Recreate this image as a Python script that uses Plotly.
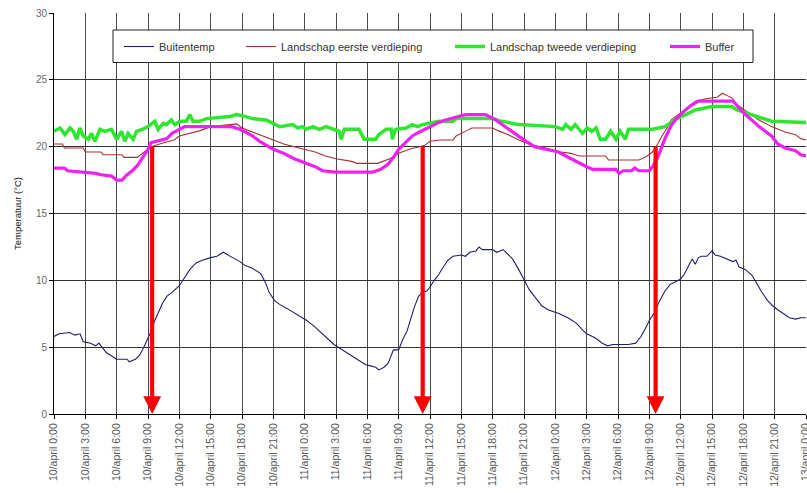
import plotly.graph_objects as go

# ---------------- data ----------------
days = ["10/april", "11/april", "12/april", "13/april"]
clock = ["0:00", "3:00", "6:00", "9:00", "12:00", "15:00", "18:00", "21:00"]
tick_hours = list(range(0, 73, 3))
tick_labels = [f"{days[h // 24]} {clock[(h % 24) // 3]}" for h in tick_hours]

buiten_h = [0, 0.5, 1.5, 2.0, 2.5, 2.8, 3.5, 4.0, 4.3, 5.0, 5.6, 6.0, 7.0, 7.2, 7.8, 8.2, 8.6, 9.0,
            9.3, 9.6, 10.0, 10.4, 10.8, 11.3, 12.0, 12.5, 13.0, 13.6, 14.2, 15.0, 15.6, 16.2, 16.6,
            17.1, 17.8, 18.3, 19.0, 19.8, 20.2, 20.6, 21.1, 21.6, 22.3, 22.9, 23.6, 24.2, 25.0, 25.7,
            26.3, 26.8, 27.4, 28.0, 28.6, 29.2, 29.8, 30.3, 30.8, 31.1, 31.6, 32.0, 32.3, 32.5, 33.0,
            33.4, 33.8, 34.2, 34.5, 34.9, 35.3, 35.7, 36.0, 36.4, 36.8, 37.2, 37.7, 38.2, 39.0, 39.4,
            39.8, 40.4, 40.7, 41.0, 42.0, 42.4, 43.0, 43.4, 43.9, 44.5, 45.0, 45.5, 46.0, 46.7, 47.3,
            48.4, 49.2, 50.0, 50.6, 51.0, 51.8, 52.5, 53.0, 53.5, 54.2, 55.0, 55.7, 56.2, 56.7, 57.0,
            57.5, 58.0, 58.5, 59.0, 59.5, 60.0, 60.3, 60.8, 61.1, 61.4, 61.7, 62.0, 62.5, 63.0, 63.3,
            63.8, 64.4, 65.0, 65.3, 65.6, 66.2, 66.8, 67.2, 67.7, 68.3, 68.8, 69.3, 69.9, 70.4, 71.0,
            71.5, 72.0]
buiten_v = [5.8, 6.0, 6.1, 5.9, 6.0, 5.4, 5.3, 5.1, 5.3, 4.6, 4.3, 4.1, 4.1, 3.9, 4.1, 4.4, 5.0, 5.7,
            6.2, 6.9, 7.6, 8.3, 8.8, 9.1, 9.6, 10.2, 10.8, 11.3, 11.5, 11.7, 11.8, 12.1, 11.9,
            11.7, 11.4, 11.1, 10.9, 10.5, 9.9, 9.1, 8.5, 8.2, 7.9, 7.6, 7.3, 7.0, 6.5, 6.0,
            5.6, 5.2, 4.9, 4.6, 4.3, 4.0, 3.7, 3.6, 3.5, 3.3, 3.5, 3.8, 4.5, 4.8, 4.8,
            5.6, 6.2, 7.2, 8.0, 8.8, 9.1, 9.2, 9.5, 10.0, 10.4, 10.9, 11.5, 11.8, 11.9, 11.8,
            12.1, 12.2, 12.5, 12.3, 12.3, 12.1, 12.3, 12.0, 11.6, 10.8, 10.0, 9.3, 8.8, 8.1, 7.8,
            7.5, 7.2, 6.8, 6.3, 6.0, 5.7, 5.3, 5.1, 5.2, 5.2, 5.2, 5.3, 5.8, 6.5, 7.0,
            7.6, 8.5, 9.2, 9.7, 9.9, 10.1, 10.4, 11.2, 11.6, 11.2, 11.7, 11.8, 11.8, 12.2, 11.9,
            11.8, 11.6, 11.4, 11.5, 11.0, 10.8, 10.4, 9.9, 9.2, 8.5, 8.1, 7.8, 7.5, 7.2, 7.1,
            7.2, 7.2]

eerste_h = [0, 0.8, 1.0, 2.8, 3.0, 4.5, 4.7, 6.5, 6.7, 8.0, 8.3, 8.8, 9.3, 10.5, 11.5, 12.0, 13.0,
            14.0, 15.0, 16.5, 17.5, 18.0, 19.0, 20.0, 21.0, 22.0, 23.0, 24.0, 25.0, 26.0, 27.0, 28.5,
            29.0, 31.0, 31.5, 32.5, 33.0, 34.0, 35.0, 35.5, 36.0, 37.0, 38.2, 38.5, 39.5, 40.0, 42.0,
            42.5, 43.5, 44.5, 45.5, 46.5, 47.7, 48.5, 49.5, 50.3, 52.8, 53.1, 56.0, 56.6, 57.3, 57.8,
            58.2, 58.7, 59.1, 59.8, 60.4, 61.0, 61.4, 62.5, 63.5, 64.0, 64.5, 65.0, 65.3, 66.0, 66.8,
            67.5, 68.7, 70.0, 71.0, 71.5, 72.0]
eerste_v = [20.2, 20.2, 19.9, 19.9, 19.6, 19.6, 19.4, 19.4, 19.2, 19.2, 19.4, 19.7, 20.0, 20.3, 20.5,
            20.8, 21.0, 21.2, 21.5, 21.6, 21.7, 21.4, 21.1, 20.8, 20.5, 20.2, 20.0, 19.8, 19.6, 19.3,
            19.1, 18.9, 18.75, 18.75, 18.9, 19.2, 19.5, 19.8, 20.0, 20.1, 20.4, 20.5, 20.5, 20.8, 21.2,
            21.4, 21.4, 21.2, 20.9, 20.5, 20.2, 20.0, 19.8, 19.6, 19.5, 19.3, 19.3, 19.0, 19.0, 19.2,
            19.6, 20.2, 20.8, 21.4, 22.0, 22.4, 22.7, 23.1, 23.4, 23.6, 23.7, 24.0, 23.8, 23.6, 23.2,
            22.8, 22.4, 22.0, 21.5, 21.1, 20.9, 20.6, 20.5]

tweede_h = [0, 0.57, 1.05, 1.53, 1.85, 2.17, 2.48, 2.8, 3.28, 3.6, 3.92, 4.4, 4.87, 5.5, 6.0, 6.46,
            6.78, 7.1, 7.58, 7.9, 8.5, 9.0, 9.65, 9.97, 10.45, 10.76, 11.24, 11.56, 12.04, 12.67, 13.0,
            13.3, 13.95, 14.6, 16.8, 17.45, 18.1, 19.0, 20.3, 20.96, 21.6, 22.87, 23.3, 23.8, 24.1,
            24.8, 25.4, 26.05, 26.7, 27.3, 27.5, 27.8, 29.2, 29.7, 30.8, 31.1, 31.8, 32.3, 32.4, 32.7,
            33.7, 34.3, 34.8, 35.3, 35.9, 36.9, 38.2, 38.5, 42.0, 42.6, 44.5, 48.0, 48.7, 49.0, 49.5,
            49.9, 50.6, 51.05, 51.5, 51.9, 52.3, 52.8, 53.3, 53.8, 54.2, 54.7, 55.0, 57.3, 58.5, 59.5,
            60.5, 61.4, 63.0, 64.9, 65.4, 66.8, 68.7, 72.0]
tweede_v = [21.15, 21.4, 20.9, 21.4, 21.15, 20.55, 21.4, 20.8, 20.55, 21.0, 20.4, 21.3, 21.15, 21.3,
            20.55, 21.15, 20.4, 21.0, 20.55, 21.15, 21.3, 21.5, 21.9, 21.3, 21.75, 21.65, 22.0, 21.65,
            21.9, 21.9, 22.4, 21.9, 21.9, 22.1, 22.25, 22.4, 22.3, 22.1, 22.0, 21.75, 21.5, 21.65, 21.4,
            21.5, 21.3, 21.5, 21.3, 21.5, 21.3, 21.15, 20.55, 21.3, 21.3, 20.55, 20.55, 20.9, 21.3,
            21.3, 20.55, 21.3, 21.4, 21.65, 21.5, 21.65, 21.75, 21.9, 21.9, 22.1, 22.1, 21.95, 21.65,
            21.5, 21.3, 21.65, 21.3, 21.65, 21.0, 21.4, 21.15, 21.4, 20.55, 20.55, 21.15, 20.55, 21.15,
            20.55, 21.3, 21.3, 21.5, 22.05, 22.4, 22.75, 23.0, 23.0, 22.75, 22.4, 21.9, 21.8]

buffer_h = [0, 1.0, 1.3, 3.0, 4.0, 4.5, 5.5, 6.0, 6.5, 7.0, 7.5, 8.0, 8.5, 9.0, 9.3, 10.2, 10.8, 11.3,
            12.0, 12.5, 17.0, 17.8, 18.3, 19.0, 19.7, 20.3, 21.0, 22.0, 23.0, 24.0, 25.0, 25.7, 27.0,
            30.5, 31.3, 32.0, 32.5, 33.0, 33.7, 34.3, 35.0, 36.0, 36.8, 37.5, 38.5, 39.4, 41.3, 42.3,
            43.0, 43.7, 44.5, 45.2, 46.0, 47.0, 48.3, 49.0, 49.7, 50.3, 51.0, 51.6, 53.8, 54.1, 54.5,
            55.3, 55.6, 56.0, 57.0, 57.4, 57.8, 58.1, 58.5, 59.1, 59.6, 60.4, 61.0, 61.7, 63.0, 65.0,
            65.6, 66.2, 66.8, 67.5, 68.2, 68.7, 69.3, 70.0, 71.0, 71.5, 72.0]
buffer_v = [18.4, 18.4, 18.2, 18.1, 18.0, 17.9, 17.8, 17.5, 17.5, 17.9, 18.2, 18.6, 19.2, 19.8, 20.3,
            20.5, 20.6, 21.0, 21.3, 21.5, 21.5, 21.3, 21.1, 20.8, 20.4, 20.1, 19.8, 19.5, 19.1, 18.8,
            18.5, 18.2, 18.1, 18.1, 18.3, 18.7, 19.2, 19.8, 20.3, 20.8, 21.1, 21.5, 21.8, 22.0, 22.2,
            22.4, 22.4, 22.0, 21.6, 21.2, 20.8, 20.4, 20.0, 19.8, 19.6, 19.3, 19.0, 18.8, 18.5, 18.3,
            18.3, 18.0, 18.2, 18.2, 18.4, 18.2, 18.2, 18.6, 19.2, 19.8, 20.6, 21.6, 22.1, 22.7, 23.1,
            23.4, 23.4, 23.4, 22.9, 22.4, 22.0, 21.5, 21.1, 20.8, 20.2, 19.9, 19.7, 19.4, 19.3]

arrow_hours = [9.4, 35.3, 57.6]
arrow_tops = [20.1, 20.1, 20.1]

series_names = ["Buitentemp", "Landschap eerste verdieping",
                "Landschap tweede verdieping", "Buffer"]

# ---------------- figure ----------------
W, H = 807, 493
ML, MR, MT, MB = 54, 1, 13, 79
PW, PH = W - ML - MR, H - MT - MB

def px_x(p):
    return (p - ML) / PW

def px_y(p):
    return (H - MB - p) / PH

FONT = "Arial, Liberation Sans, sans-serif"

fig = go.Figure()
specs = [
    (buiten_h, buiten_v, "#1f1f6e", 1.1, "legend"),
    (eerste_h, eerste_v, "#a83030", 1.1, "legend2"),
    (tweede_h, tweede_v, "#2ee62e", 3.5, "legend3"),
    (buffer_h, buffer_v, "#ee22ee", 3.2, "legend4"),
]
for (xs, ys, col, wd, lg), name in zip(specs, series_names):
    fig.add_trace(go.Scatter(x=xs, y=ys, mode="lines", name=name,
                             line=dict(color=col, width=wd), legend=lg))

for h, top in zip(arrow_hours, arrow_tops):
    fig.add_annotation(x=h, y=0, ax=h, ay=top, xref="x", yref="y", axref="x", ayref="y",
                       text="", showarrow=True, arrowhead=2, arrowsize=0.85,
                       arrowwidth=4.2, arrowcolor="#ff0000", standoff=0)

# legend box
fig.add_shape(type="rect", xref="paper", yref="paper",
              x0=px_x(113), x1=px_x(753), y0=px_y(62.5), y1=px_y(30),
              fillcolor="white", line=dict(color="#222", width=1), layer="above")

legend_font = dict(family=FONT, size=11, color="#333")
sym_start = [119, 241, 450, 665]
legends = {}
for i, sx in enumerate(sym_start):
    key = "legend" if i == 0 else f"legend{i + 1}"
    legends[key] = dict(x=px_x(sx), y=px_y(46.5), xanchor="left", yanchor="middle",
                        bgcolor="rgba(0,0,0,0)", borderwidth=0, font=legend_font,
                        itemwidth=30)

fig.update_layout(
    width=W, height=H,
    margin=dict(l=ML, r=MR, t=MT, b=MB, pad=0, autoexpand=False),
    paper_bgcolor="white", plot_bgcolor="white",
    showlegend=True,
    **legends,
    xaxis=dict(range=[0, 72], tickmode="array", tickvals=tick_hours, ticktext=tick_labels,
               tickangle=-90, showgrid=True, gridcolor="#4a4a4a", gridwidth=1,
               showline=True, linecolor="black", linewidth=1, ticks="outside", ticklen=4,
               tickcolor="black", zeroline=False, ticklabeloverflow="allow", automargin=False,
               tickfont=dict(family=FONT, size=10.5, color="#555")),
    yaxis=dict(range=[0, 30], tickvals=[0, 5, 10, 15, 20, 25, 30],
               showgrid=True, gridcolor="#333", gridwidth=1, automargin=False,
               showline=True, linecolor="black", linewidth=1, ticks="outside", ticklen=4,
               tickcolor="black", zeroline=False,
               tickfont=dict(family=FONT, size=10, color="#666"),
               title=dict(text="Temperatuur (°C)", standoff=12,
                          font=dict(family=FONT, size=9.5, color="#111"))),
)

fig.write_html("out.html")
